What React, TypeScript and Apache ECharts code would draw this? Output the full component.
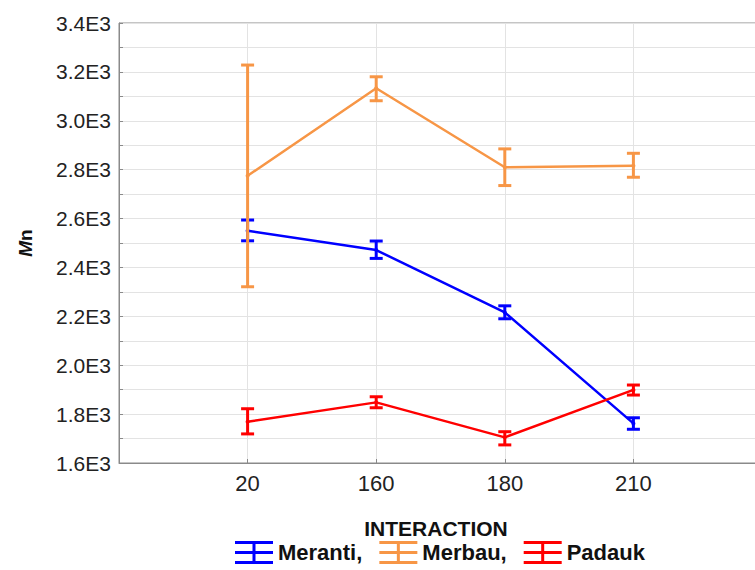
import React, { useEffect, useRef } from "react";
import * as echarts from "echarts";

const categories = ["20", "160", "180", "210"];
const seriesNames = ["Meranti,", "Merbau,", "Padauk"];
const colors = ["#0000ff", "#f79646", "#ff0000"];

const merantiMean = [2550, 2471, 2216, 1762];
const merantiLow = [2509, 2437, 2190, 1738];
const merantiHigh = [2594, 2508, 2243, 1785];

const merbauMean = [2775, 3133, 2810, 2816];
const merbauLow = [2321, 3082, 2735, 2769];
const merbauHigh = [3228, 3180, 2885, 2867];

const padaukMean = [1769, 1848, 1705, 1899];
const padaukLow = [1719, 1826, 1674, 1878];
const padaukHigh = [1822, 1871, 1728, 1919];

const yTickLabels = ["1.6E3", "1.8E3", "2.0E3", "2.2E3", "2.4E3", "2.6E3", "2.8E3", "3.0E3", "3.2E3", "3.4E3"];

const FONT = "'Liberation Sans', Arial, sans-serif";

export default function App() {
  const ref = useRef<HTMLDivElement>(null);

  useEffect(() => {
    if (!ref.current) return;
    const chart = echarts.init(ref.current, null, { renderer: "svg" });
    const axisData = ["", ...categories, ""];
    const means = [merantiMean, merbauMean, padaukMean];
    const lows = [merantiLow, merbauLow, padaukLow];
    const highs = [merantiHigh, merbauHigh, padaukHigh];

    const lineSeries = seriesNames.map((name, s) => ({
      name,
      type: "line",
      data: categories.map((c, i) => [i + 1, means[s][i]]),
      symbol: "circle",
      symbolSize: 4,
      lineStyle: { color: colors[s], width: 2.5 },
      itemStyle: { color: colors[s] },
      z: 3,
    }));

    const errSeries = seriesNames.map((name, s) => ({
      name: name + "_err",
      type: "custom",
      data: categories.map((c, i) => [i + 1, lows[s][i], highs[s][i]]),
      encode: { x: 0, y: [1, 2] },
      z: 4,
      renderItem: (params: any, api: any) => {
        const x = api.value(0);
        const lo = api.coord([x, api.value(1)]);
        const hi = api.coord([x, api.value(2)]);
        const hw = 6.5;
        const style = { stroke: colors[s], lineWidth: 3, fill: null };
        return {
          type: "group",
          children: [
            { type: "line", shape: { x1: lo[0], y1: lo[1], x2: hi[0], y2: hi[1] }, style },
            { type: "line", shape: { x1: lo[0] - hw, y1: lo[1], x2: lo[0] + hw, y2: lo[1] }, style },
            { type: "line", shape: { x1: hi[0] - hw, y1: hi[1], x2: hi[0] + hw, y2: hi[1] }, style },
          ],
        };
      },
    }));

    const icon =
      "path://M0,0H38V3H0Z M0,10H38V13H0Z M0,20H38V23H0Z M17.5,0H20.5V23H17.5Z";

    chart.setOption({
      animation: false,
      backgroundColor: "#ffffff",
      textStyle: { fontFamily: FONT },
      grid: {
        left: 119,
        top: 23,
        bottom: 107,
        right: 0,
        show: true,
        borderColor: "#8a8a8a",
        borderWidth: 1,
        backgroundColor: "#ffffff",
      },
      legend: {
        data: seriesNames.map((n) => ({ name: n, icon })),
        left: 235,
        top: 541,
        itemWidth: 38,
        itemHeight: 23,
        itemGap: 17,
        padding: 0,
        textStyle: { fontFamily: FONT, fontWeight: "bold", fontSize: 22, color: "#111" },
      },
      xAxis: {
        type: "category",
        data: axisData,
        boundaryGap: false,
        axisLine: { lineStyle: { color: "#8a8a8a", width: 1 } },
        axisTick: { inside: true, length: 4, lineStyle: { color: "#8a8a8a" } },
        axisLabel: { fontSize: 22, color: "#222", margin: 9, fontFamily: FONT },
        splitLine: { show: true, lineStyle: { color: "#e3e3e3", width: 1 } },
      },
      yAxis: {
        type: "value",
        min: 1600,
        max: 3400,
        interval: 100,
        name: "{i|M}{n|n}",
        nameLocation: "middle",
        nameRotate: 90,
        nameGap: 84,
        nameTextStyle: {
          rich: {
            i: { fontSize: 19, fontWeight: "bold", fontStyle: "italic", color: "#111", fontFamily: FONT },
            n: { fontSize: 19, fontWeight: "bold", color: "#111", fontFamily: FONT },
          },
        },
        axisLine: { show: true, lineStyle: { color: "#8a8a8a", width: 1 } },
        axisTick: { show: true, inside: true, length: 4, lineStyle: { color: "#8a8a8a" } },
        axisLabel: {
          fontSize: 21,
          color: "#222",
          margin: 8,
          fontFamily: FONT,
          formatter: (v: number) => {
            const idx = yTickLabels.indexOf((v / 1000).toFixed(1) + "E3");
            return idx >= 0 ? yTickLabels[idx] : "";
          },
        },
        splitLine: { show: true, lineStyle: { color: "#e3e3e3", width: 1 } },
      },
      graphic: [
        {
          type: "text",
          x: 436,
          y: 528,
          style: {
            text: "INTERACTION",
            fontFamily: FONT,
            fontWeight: "bold",
            fontSize: 21,
            fill: "#111",
            textAlign: "center",
            textVerticalAlign: "middle",
          },
        },
      ],
      series: [...lineSeries, ...errSeries],
    });
    return () => chart.dispose();
  }, []);

  return (
    <div
      ref={ref}
      style={{ position: "fixed", left: 0, top: 0, width: 765, height: 570 }}
    />
  );
}
